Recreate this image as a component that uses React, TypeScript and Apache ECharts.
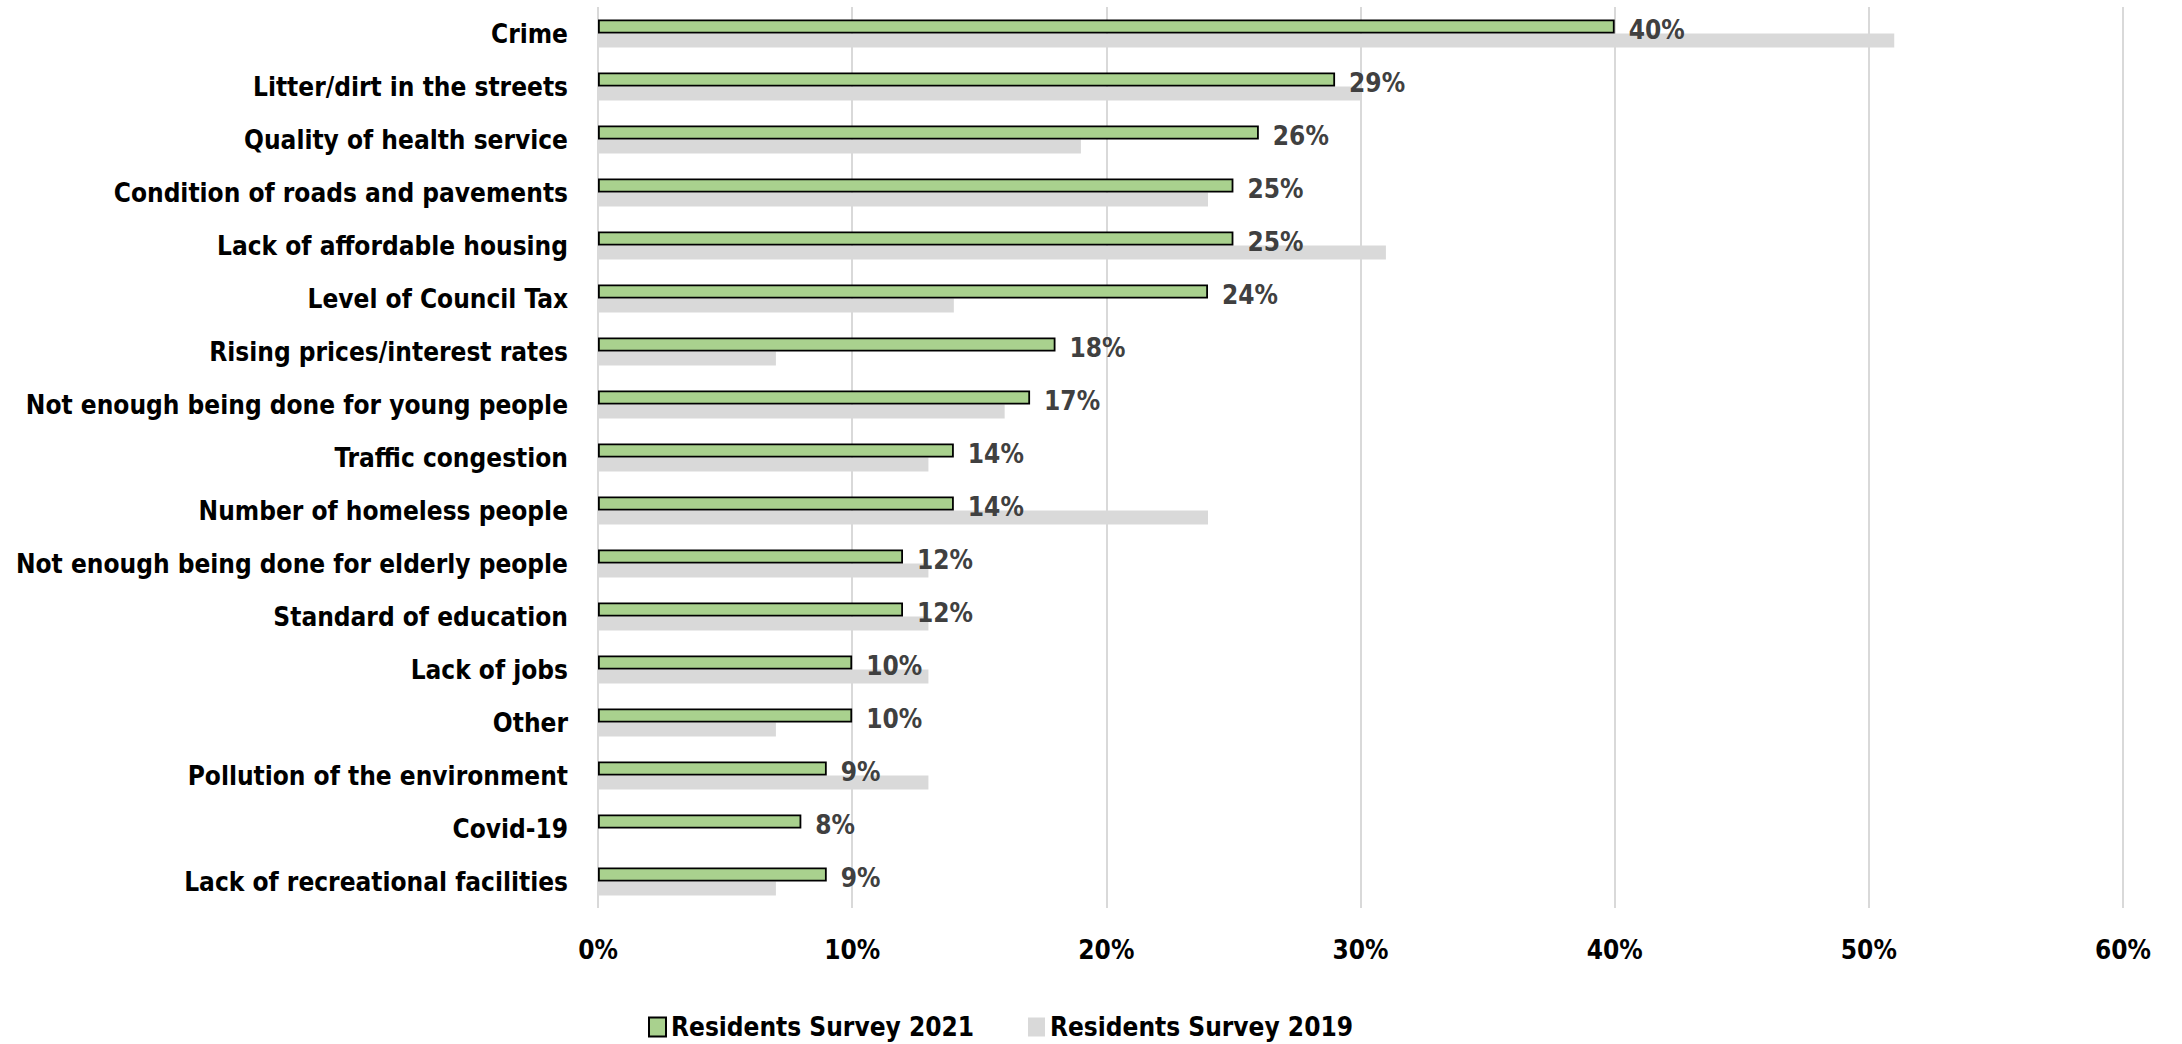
import React, { useEffect, useRef } from "react";
import * as echarts from "echarts";

const categories = [
  "Crime",
  "Litter/dirt in the streets",
  "Quality of health service",
  "Condition of roads and pavements",
  "Lack of affordable housing",
  "Level of Council Tax",
  "Rising prices/interest rates",
  "Not enough being done for young people",
  "Traffic congestion",
  "Number of homeless people",
  "Not enough being done for elderly people",
  "Standard of education",
  "Lack of jobs",
  "Other",
  "Pollution of the environment",
  "Covid-19",
  "Lack of recreational facilities",
];

const survey2021 = [40, 29, 26, 25, 25, 24, 18, 17, 14, 14, 12, 12, 10, 10, 9, 8, 9];
const survey2019: (number | null)[] = [51, 30, 19, 24, 31, 14, 7, 16, 13, 24, 13, 13, 13, 7, 13, null, 7];

const xTicks = [0, 10, 20, 30, 40, 50, 60];

const FONT = "'DejaVu Sans Condensed', 'Liberation Sans', sans-serif";
const FS = 26;

export default function App() {
  const ref = useRef<HTMLDivElement>(null);
  useEffect(() => {
    document.body.style.margin = "0";
    const chart = echarts.init(ref.current!, null, { renderer: "svg" });
    chart.setOption({
      animation: false,
      backgroundColor: "#ffffff",
      textStyle: { fontFamily: FONT },
      grid: {
        left: 598,
        right: 59,
        top: 7,
        bottom: 136,
        containLabel: false,
        outerBoundsMode: "none",
      },
      legend: {
        left: 643,
        top: 1009,
        icon: "rect",
        itemWidth: 17,
        itemHeight: 19,
        itemGap: 54,
        textStyle: { fontFamily: FONT, fontWeight: "bold", fontSize: FS, color: "#000" },
        data: ["Residents Survey 2021", "Residents Survey 2019"],
      },
      xAxis: {
        type: "value",
        min: xTicks[0],
        max: xTicks[xTicks.length - 1],
        interval: 10,
        axisLine: { show: false },
        axisTick: { show: false },
        splitLine: { lineStyle: { color: "#D9D9D9", width: 2 } },
        axisLabel: {
          formatter: (v: number) => v + "%",
          fontFamily: FONT,
          fontWeight: "bold",
          fontSize: FS,
          color: "#000",
          margin: 29,
        },
      },
      yAxis: {
        type: "category",
        data: categories,
        inverse: true,
        axisLine: { show: false },
        axisTick: { show: false },
        axisLabel: {
          fontFamily: FONT,
          fontWeight: "bold",
          fontSize: FS,
          color: "#000",
          margin: 30,
        },
      },
      series: [
        {
          name: "Residents Survey 2021",
          type: "bar",
          data: survey2021,
          barWidth: 14,
          barGap: "0%",
          itemStyle: { color: "#A9D18E", borderColor: "#000", borderWidth: 1.8 },
          label: {
            show: true,
            position: "right",
            distance: 14,
            offset: [0, 3],
            formatter: (p: any) => p.value + "%",
            fontFamily: FONT,
            fontWeight: "bold",
            fontSize: FS,
            color: "#404040",
          },
          z: 3,
        },
        {
          name: "Residents Survey 2019",
          type: "bar",
          data: survey2019,
          barWidth: 14,
          barGap: "0%",
          itemStyle: { color: "#D9D9D9" },
          z: 2,
        },
      ],
    });
    return () => chart.dispose();
  }, []);
  return <div ref={ref} style={{ position: "fixed", left: 0, top: 0, width: 2182, height: 1044 }} />;
}
